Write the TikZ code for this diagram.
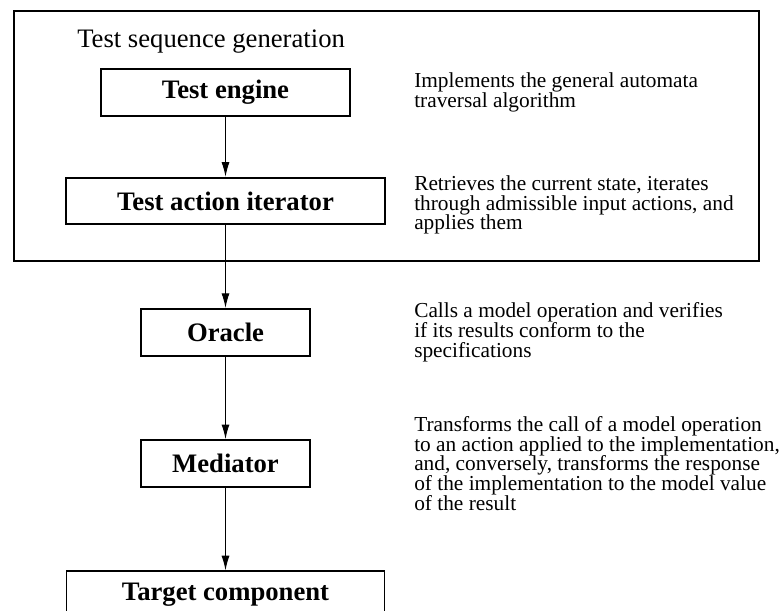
\documentclass[tikz,border=0pt]{standalone}
\usepackage{fontspec}
\setmainfont{Liberation Serif}
\usepackage{tikz}
\usetikzlibrary{arrows.meta, positioning}

\begin{document}
\begin{tikzpicture}[
    x=0.75pt, y=-0.75pt,
    node distance=62pt,
    box/.style={rectangle, draw, line width=1.4pt, align=center, minimum height=35pt,
        inner sep=0pt, font=\fontsize{20}{23}\selectfont\bfseries},
    note/.style={anchor=west, align=left, inner sep=0pt, font=\fontsize{16}{14.8}\selectfont},
    arrow/.style={-{Latex[length=11pt, width=6pt]}, line width=0.8pt}
]
\clip (0,0) rectangle (781,610);
\coordinate (notecol) at (414,0);

\node[box, minimum width=186.75pt] (engine) at (225.5,92.5) {Test engine};
\node[box, minimum width=239pt, below=45pt of engine] (iterator) {Test action iterator};
\node[box, minimum width=127pt, below=of iterator] (oracle) {Oracle};
\node[box, minimum width=127pt, below=of oracle] (mediator) {Mediator};
\node[box, minimum width=238.5pt, below=of mediator] (target) {Target component};

% test sequence generation frame
\draw[line width=1.8pt] (14,11) rectangle (759,261);
\node[anchor=base west, inner sep=0pt, font=\fontsize{20}{23}\selectfont] (gen) at (77,48) {Test sequence generation};

\node[note] (enginenote) at (notecol |- engine) {Implements the general automata\\traversal algorithm};
\node[note, yshift=-3pt] (iteratornote) at (notecol |- iterator) {Retrieves the current state, iterates\\through admissible input actions, and\\applies them};
\node[note] (oraclenote) at (notecol |- oracle) {Calls a model operation and verifies\\if its results conform to the\\specifications};
\node[note] (mediatornote) at (notecol |- mediator) {Transforms the call of a model operation\\to an action applied to the implementation,\\and, conversely, transforms the response\\of the implementation to the model value\\of the result};

\draw[arrow] (engine) -- (iterator);
\draw[arrow] (iterator) -- (oracle);
\draw[arrow] (oracle) -- (mediator);
\draw[arrow] (mediator) -- (target);
\end{tikzpicture}
\end{document}
